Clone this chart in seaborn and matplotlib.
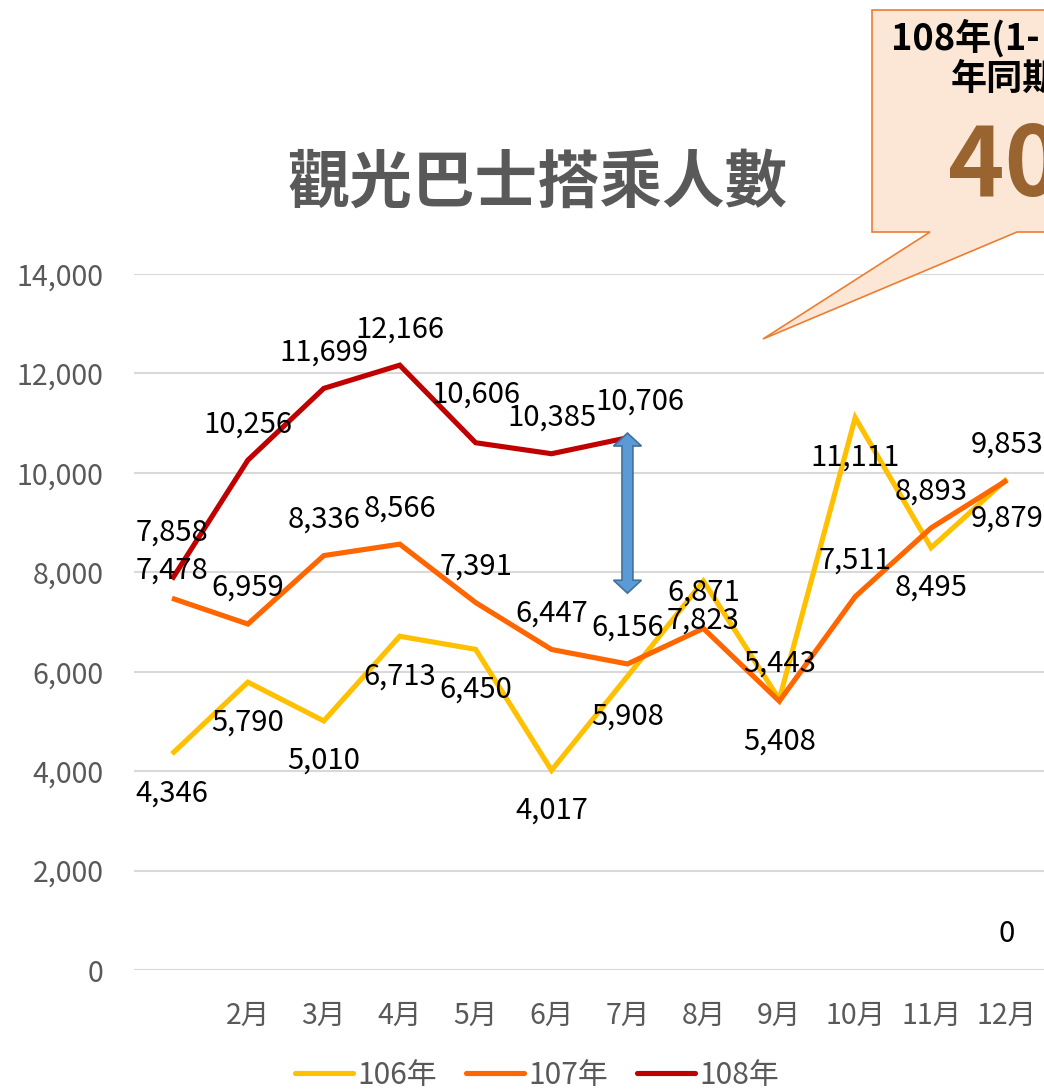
import matplotlib
matplotlib.use("Agg")
import matplotlib.pyplot as plt
import seaborn as sns
import pandas as pd
from matplotlib.patches import Polygon
from matplotlib.lines import Line2D

# ---------------- data ----------------
month_ticks = ["", "2月", "3月", "4月", "5月", "6月", "7月", "8月", "9月", "10月", "11月", "12月"]
y106 = [4346, 5790, 5010, 6713, 6450, 4017, 5908, 7823, 5443, 11111, 8495, 9879]
y107 = [7478, 6959, 8336, 8566, 7391, 6447, 6156, 6871, 5408, 7511, 8893, 9853]
y108 = [7858, 10256, 11699, 12166, 10606, 10385, 10706, None, None, None, None, 0]
series_names = ["106年", "107年", "108年"]
series_colors = ["#FFC000", "#FF6600", "#C00000"]
y_ticks = [0, 2000, 4000, 6000, 8000, 10000, 12000, 14000]
title_text = "觀光巴士搭乘人數"
callout_lines = ["108年(1-", "年同期", "40"]

# ---------------- style ----------------
sns.set_theme(style="white")
plt.rcParams["font.family"] = ["Noto Sans CJK TC", "DejaVu Sans"]

W, H = 1044, 1089
fig = plt.figure(figsize=(W / 100, H / 100), dpi=100)
fig.patch.set_facecolor("white")


def fx(px):
    return px / W


def fy(py):
    return 1 - py / H


ax = fig.add_axes([fx(134), fy(970), (1045 - 134) / W, (970 - 274) / H])

rows = []
for name, vals in zip(series_names, [y106, y107, y108]):
    seg = 0
    for i, v in enumerate(vals):
        if v is None:
            seg += 1
            continue
        rows.append(dict(month=i, value=v, series=name, seg=f"{name}-{seg}"))
df = pd.DataFrame(rows)

sns.lineplot(data=df, x="month", y="value", hue="series", units="seg",
             estimator=None, palette=dict(zip(series_names, series_colors)),
             linewidth=3.7, legend=False, ax=ax, zorder=3)
for ln in ax.lines:
    ln.set_solid_joinstyle("miter")
    ln.set_solid_capstyle("butt")

ax.set_xlim(-0.5, 11.5)
ax.set_ylim(0, 14000)
ax.set_yticks(y_ticks)
ax.set_yticklabels([f"{t:,}" for t in y_ticks])
ax.set_xticks(range(12))
ax.set_xticklabels(month_ticks)
ax.set_xlabel("")
ax.set_ylabel("")
ax.tick_params(axis="both", length=0, labelsize=20.5, labelcolor="#595959")
ax.tick_params(axis="y", pad=22)
ax.tick_params(axis="x", pad=22)
ax.yaxis.grid(True, color="#D9D9D9", linewidth=1.5)
ax.xaxis.grid(False)
for s in ax.spines.values():
    s.set_visible(False)
ax.set_facecolor("none")

# ---------------- data labels ----------------
placement = {"106年": "bbbbbbbbabbb", "107年": "aaaaaaaabaaa", "108年": "aaaaaaaaaaaa"}
tweak = {("107年", 0): (0, 8), ("108年", 0): (0, -11), ("108年", 4): (0, -12), ("108年", 6): (12, 0)}
for name, vals in zip(series_names, [y106, y107, y108]):
    for i, v in enumerate(vals):
        if v is None:
            continue
        dy = -36 if placement[name][i] == "a" else 40
        dx = 0
        tx, ty = tweak.get((name, i), (0, 0))
        dx += tx
        dy += ty
        ax.annotate(f"{v:,}", (i, v), xytext=(dx * 0.72, -dy * 0.72),
                    textcoords="offset points", ha="center", va="center",
                    fontsize=21, color="black", zorder=4)

# ---------------- blue double arrow (annotation) ----------------
ax_x = 6
top, bot = 10800, 7580
hw_s, hw_h, hl = 0.072, 0.184, 260
arrow_pts = [(ax_x, top), (ax_x + hw_h, top - hl), (ax_x + hw_s, top - hl),
             (ax_x + hw_s, bot + hl), (ax_x + hw_h, bot + hl), (ax_x, bot),
             (ax_x - hw_h, bot + hl), (ax_x - hw_s, bot + hl), (ax_x - hw_s, top - hl),
             (ax_x - hw_h, top - hl)]
ax.add_patch(Polygon(arrow_pts, closed=True, facecolor="#5B9BD5", edgecolor="#41719C",
                     linewidth=1.2, zorder=5))

# ---------------- title ----------------
fig.text(fx(537), fy(183), title_text, ha="center", va="center", fontsize=45,
         fontweight="bold", color="#595959")

# ---------------- legend ----------------
handles = [Line2D([0], [0], color=c, lw=3.7) for c in series_colors]
fig.legend(handles, series_names, loc="center", bbox_to_anchor=(fx(537), fy(1075)),
           ncol=3, frameon=False, handlelength=1.95, handletextpad=0.15,
           columnspacing=0.95, fontsize=21.5, labelcolor="#595959")

# ---------------- callout ----------------
call_pts = [(872, 10), (1060, 10), (1060, 232), (1017, 232), (763, 339), (930, 232), (872, 232)]
fig.add_artist(Polygon([(fx(a), fy(b)) for a, b in call_pts], closed=True,
                       transform=fig.transFigure, facecolor="#FCE6D5",
                       edgecolor="#ED7D31", linewidth=1.2, zorder=6))
fig.text(fx(891), fy(38), callout_lines[0], ha="left", va="center", fontsize=26,
         fontweight="bold", color="black", zorder=7)
fig.text(fx(951), fy(79), callout_lines[1], ha="left", va="center", fontsize=26,
         fontweight="bold", color="black", zorder=7)
fig.text(fx(948), fy(168), callout_lines[2], ha="left", va="center", fontsize=69,
         fontweight="bold", color="#99642F", zorder=7)

fig.savefig("out.png", dpi=100, facecolor="white")
